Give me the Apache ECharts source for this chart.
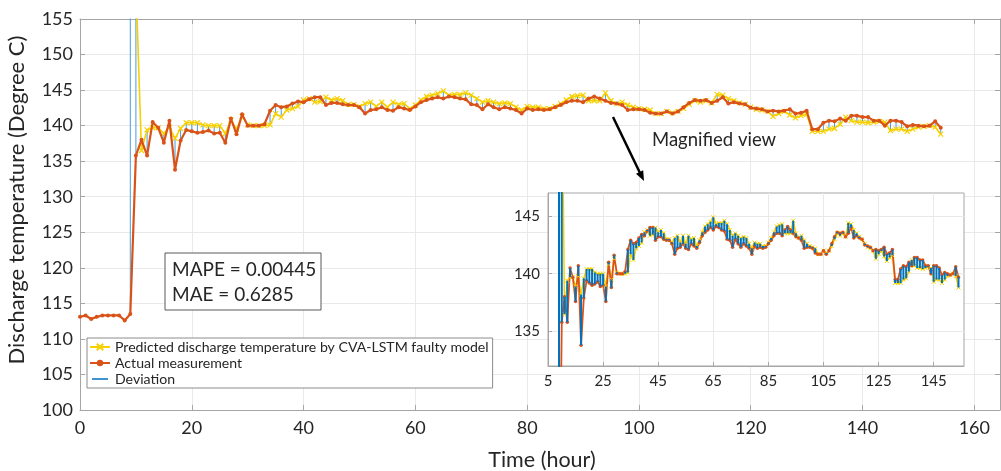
<!DOCTYPE html>
<html><head><meta charset="utf-8">
<script src="https://cdn.jsdelivr.net/npm/echarts@6/dist/echarts.min.js"></script>
<style>html,body{margin:0;padding:0;background:#fff}#c{width:1001px;height:471px}</style>
</head><body><div id="c"></div>
<script>
// ---- data (one sample per hour, index = hour) ----
const actual = [
113.1,113.3,112.8,113.1,113.3,113.3,113.3,113.3,112.6,113.5,
135.8,138.0,135.8,140.5,139.7,137.6,140.7,133.8,137.9,139.4,
139.2,139.0,139.1,139.3,138.9,139.0,137.6,141.0,138.8,141.6,
140.0,140.0,140.0,140.2,142.1,142.9,142.6,142.7,143.1,143.4,
143.3,143.7,144.0,144.0,142.9,143.2,143.2,143.0,142.9,142.9,
142.6,141.7,142.2,142.3,142.6,142.2,142.1,142.6,142.4,142.2,
142.7,143.3,143.6,143.8,144.0,143.8,144.1,144.0,143.8,143.7,
143.0,142.9,142.3,143.0,142.6,142.3,142.6,142.4,142.2,141.7,
142.4,142.2,142.3,142.2,142.3,142.6,142.9,143.3,143.5,143.5,
143.3,143.8,144.1,143.8,143.5,143.2,143.1,142.9,142.2,142.3,
142.3,142.2,141.8,141.7,141.7,142.0,141.7,142.0,142.6,143.2,
143.6,143.5,143.6,143.2,143.5,144.0,143.1,143.3,143.1,143.0,
142.5,142.4,142.3,142.0,142.1,142.0,142.1,142.3,141.7,141.8,
142.1,139.5,139.5,140.4,140.7,140.6,141.0,140.7,141.4,141.4,
141.2,141.2,140.7,140.7,140.0,140.7,140.7,140.5,139.9,140.1,
140.0,139.9,140.0,140.6,139.7
];
const predicted = [
null,null,null,null,null,null,null,null,null,190.0,
160.0,136.5,139.4,139.7,139.7,138.9,139.8,138.2,139.6,140.4,
140.4,140.4,140.1,140.0,140.0,140.0,138.9,140.8,139.5,141.3,
140.1,140.0,140.0,140.0,140.1,141.7,141.2,142.2,142.4,142.7,
143.6,143.8,143.3,143.4,144.0,143.6,143.8,143.5,143.0,143.0,
142.7,143.1,143.3,142.7,143.3,142.6,143.3,143.0,143.1,142.4,
142.9,143.6,144.1,144.3,144.5,144.9,144.3,144.4,144.4,144.6,
144.3,143.8,143.3,143.5,143.3,143.1,143.2,143.1,142.6,142.2,
142.7,142.6,142.6,142.4,142.4,142.7,143.1,143.6,144.1,144.2,
144.3,143.5,143.5,143.5,144.6,143.5,143.1,143.3,142.9,142.6,
142.4,142.3,142.2,141.7,141.7,142.0,141.8,142.0,142.4,143.0,
143.5,143.3,143.5,143.2,144.4,144.3,143.8,143.5,143.2,143.0,
142.6,142.3,142.2,142.0,141.3,141.7,142.0,141.5,141.1,141.4,
141.6,139.2,139.2,139.2,139.5,139.6,140.2,141.2,140.7,140.5,
140.5,140.4,140.5,140.6,140.5,139.3,139.5,139.5,139.2,139.5,
139.8,139.9,140.0,139.8,138.8
];
const seriesNames = ['Predicted discharge temperature by CVA-LSTM faulty model', 'Actual measurement', 'Deviation'];
const mainXTicks = [0, 20, 40, 60, 80, 100, 120, 140, 160];
const mainYTicks = [100, 105, 110, 115, 120, 125, 130, 135, 140, 145, 150, 155];
const insetXTicks = [5, 25, 45, 65, 85, 105, 125, 145];
const insetYTicks = [135, 140, 145];
const statsLines = ['MAPE = 0.00445', 'MAE = 0.6285'];
const xTitle = 'Time (hour)';
const yTitle = 'Discharge temperature (Degree C)';
const noteText = 'Magnified view';

// ---- build series data ----
const hours = actual.map((_, i) => i);
const actualPts = hours.map(h => [h, actual[h]]);
const predPts = hours.filter(h => predicted[h] != null).map(h => [h, predicted[h]]);
const devPts = [];
hours.forEach(h => { if (predicted[h] != null) devPts.push([h, actual[h]], [h, predicted[h]], [h, '-']); });

const FONT = 'Lato, "Open Sans", sans-serif';
const TXT = '#262626';
const AX = '#a6a6a6';
const GRIDC = '#e9e9e9';
const YEL = '#f7d000';
const ORA = '#d95319';
const BLU = '#0072bd';
const XSYM = 'path://M0,0L10,10M10,0L0,10';
const LINE_ICON = 'path://M0,0h0.01v0.01h-0.01z M0,4.2h20v1.6h-20z M19.99,9.99h0.01v0.01h-0.01z';

function axisBase(extra) {
  return Object.assign({
    type: 'value',
    axisLine: { show: true, onZero: false, lineStyle: { color: AX, width: 1 } },
    axisTick: { show: true, inside: true, length: 5, lineStyle: { color: AX } },
    axisLabel: { color: TXT, fontFamily: FONT },
    splitLine: { show: true, lineStyle: { color: GRIDC, width: 1 } }
  }, extra);
}

const chart = echarts.init(document.getElementById('c'), null, { renderer: 'canvas' });
chart.setOption({
  animation: false,
  backgroundColor: '#fff',
  grid: [
    { left: 80, top: 19, width: 920, height: 391, show: false },
    { left: 548, top: 193, width: 416, height: 173, show: true, backgroundColor: '#fff', borderColor: AX, borderWidth: 1, z: 1 }
  ],
  xAxis: [
    axisBase({ gridIndex: 0, min: 0, max: 164.6, interval: 20,
      axisTick: { show: true, inside: true, length: 5, lineStyle: { color: AX }, customValues: mainXTicks },
      axisLabel: { color: TXT, fontFamily: FONT, fontSize: 18, margin: 9, customValues: mainXTicks } }),
    axisBase({ gridIndex: 0, position: 'top', min: 0, max: 164.6, interval: 20,
      axisTick: { show: true, inside: true, length: 5, lineStyle: { color: AX }, customValues: mainXTicks },
      axisLabel: { show: false }, splitLine: { show: false } }),
    axisBase({ gridIndex: 1, min: 5, max: 156, interval: 20, z: 2,
      axisTick: { show: true, inside: true, length: 4, lineStyle: { color: AX }, customValues: insetXTicks },
      axisLabel: { color: TXT, fontFamily: FONT, fontSize: 15, margin: 8, customValues: insetXTicks } })
  ],
  yAxis: [
    axisBase({ gridIndex: 0, min: 100, max: 155, interval: 5,
      axisTick: { show: true, inside: true, length: 5, lineStyle: { color: AX }, customValues: mainYTicks },
      axisLabel: { color: TXT, fontFamily: FONT, fontSize: 18, margin: 7, customValues: mainYTicks } }),
    axisBase({ gridIndex: 0, position: 'right', min: 100, max: 155, interval: 5,
      axisTick: { show: true, inside: true, length: 5, lineStyle: { color: AX }, customValues: mainYTicks },
      axisLabel: { show: false }, splitLine: { show: false } }),
    axisBase({ gridIndex: 1, min: 132, max: 147, z: 2,
      axisTick: { show: true, inside: true, length: 4, lineStyle: { color: AX }, customValues: insetYTicks },
      axisLabel: { color: TXT, fontFamily: FONT, fontSize: 15, margin: 8, customValues: insetYTicks } })
  ],
  legend: {
    show: true, orient: 'vertical', left: 87, top: 338,
    itemWidth: 20, itemHeight: 8, itemGap: 0, padding: [1, 4, 1, 2],
    backgroundColor: '#fff', borderColor: '#8c8c8c', borderWidth: 1, borderRadius: 0,
    textStyle: { fontSize: 14.1, color: TXT, fontFamily: FONT, lineHeight: 16 },
    data: [
      { name: seriesNames[0] },
      { name: seriesNames[1] },
      { name: seriesNames[2], icon: LINE_ICON, itemStyle: { color: BLU } }
    ],
    z: 6
  },
  series: [
    { type: 'line', name: seriesNames[2], xAxisIndex: 0, yAxisIndex: 0, data: devPts, symbol: 'none',
      lineStyle: { color: '#4a9bd8', width: 1 }, itemStyle: { color: BLU }, z: 2, clip: true },
    { type: 'line', name: seriesNames[0], xAxisIndex: 0, yAxisIndex: 0, data: predPts, symbol: XSYM, symbolSize: 5,
      lineStyle: { color: YEL, width: 1.6 }, itemStyle: { color: YEL, borderColor: YEL, borderWidth: 1.2 }, z: 3, clip: true },
    { type: 'line', name: seriesNames[1], xAxisIndex: 0, yAxisIndex: 0, data: actualPts, symbol: 'circle', symbolSize: 4,
      lineStyle: { color: ORA, width: 2.2 }, itemStyle: { color: ORA }, z: 4, clip: true },
    { type: 'line', name: seriesNames[0], xAxisIndex: 2, yAxisIndex: 2, data: predPts, symbol: XSYM, symbolSize: 4,
      lineStyle: { color: YEL, width: 1.5 }, itemStyle: { color: YEL, borderColor: YEL, borderWidth: 1 }, z: 3, clip: true },
    { type: 'line', name: seriesNames[1], xAxisIndex: 2, yAxisIndex: 2, data: actualPts, symbol: 'circle', symbolSize: 3.5,
      lineStyle: { color: ORA, width: 1.8 }, itemStyle: { color: ORA }, z: 3, clip: true },
    { type: 'line', name: seriesNames[2], xAxisIndex: 2, yAxisIndex: 2, data: devPts, symbol: 'none',
      lineStyle: { color: BLU, width: 2 }, itemStyle: { color: BLU }, z: 4, clip: true }
  ],
  graphic: [
    { type: 'text', x: 17, y: 200, rotation: Math.PI / 2, z: 10,
      style: { text: yTitle, fontSize: 22, fontFamily: FONT, fill: TXT, align: 'center', verticalAlign: 'middle' } },
    { type: 'text', x: 542, y: 460, z: 10,
      style: { text: xTitle, fontSize: 21.5, fontFamily: FONT, fill: TXT, align: 'center', verticalAlign: 'middle' } },
    { type: 'rect', z: 10, shape: { x: 165, y: 253, width: 156, height: 57 },
      style: { fill: '#fff', stroke: '#595959', lineWidth: 1 } },
    { type: 'text', x: 172, y: 270, z: 11,
      style: { text: statsLines[0], fontSize: 19, fontFamily: FONT, fill: TXT, align: 'left', verticalAlign: 'middle' } },
    { type: 'text', x: 172, y: 295, z: 11,
      style: { text: statsLines[1], fontSize: 19, fontFamily: FONT, fill: TXT, align: 'left', verticalAlign: 'middle' } },
    { type: 'text', x: 652, y: 140, z: 10,
      style: { text: noteText, fontSize: 18.5, fontFamily: FONT, fill: TXT, align: 'left', verticalAlign: 'middle' } },
    { type: 'line', z: 10, shape: { x1: 613, y1: 117, x2: 640, y2: 173 },
      style: { stroke: '#000', lineWidth: 2.5 } },
    { type: 'polygon', z: 10, shape: { points: [[644, 181], [636, 173.7], [643.2, 170.3]] },
      style: { fill: '#000' } }
  ]
});
</script>
</body></html>
